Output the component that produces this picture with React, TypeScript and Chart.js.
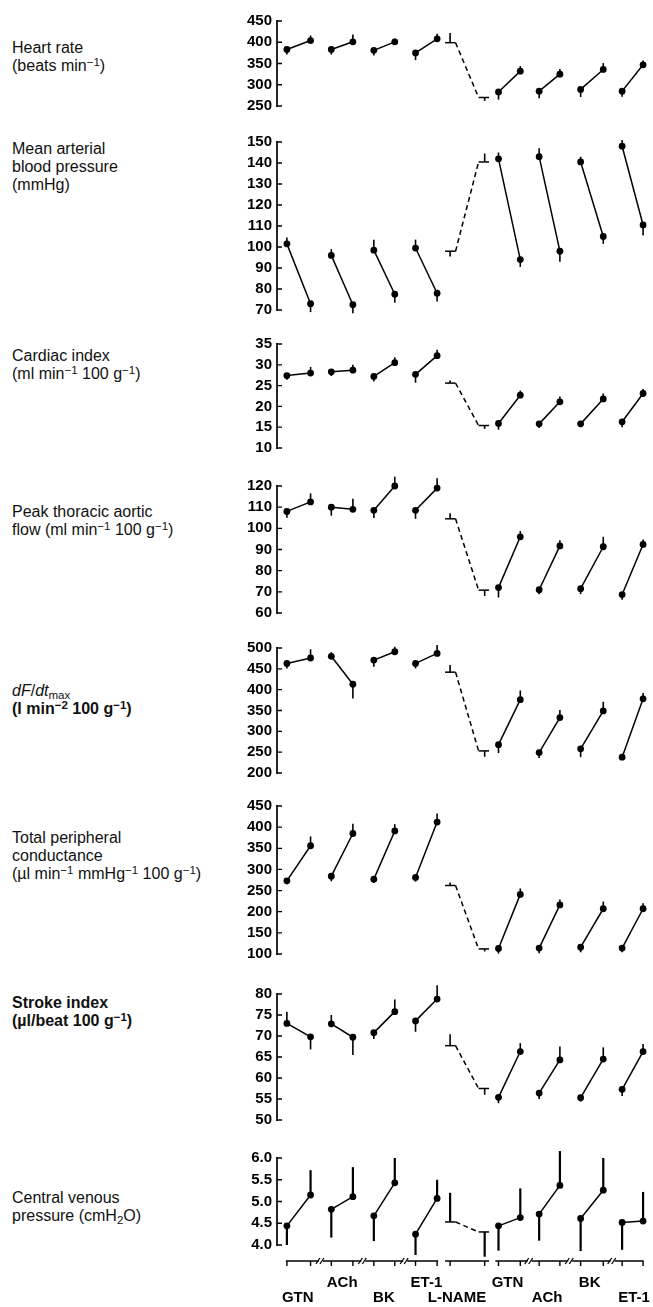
import React, { useEffect, useRef } from 'react';
import { Chart, registerables } from 'chart.js';

Chart.register(...registerables);

// ---------- x positions (treatment slots: before / after) ----------
const X_POS = [0, 1.13, 2.12, 3.15, 4.15, 5.15, 6.14, 7.17, 7.79, 9.44, 10.1, 11.14, 12.04, 13.03, 14.02, 15.1, 16.0, 17.0];
const LNAME_STUB = [7.55, 8.05, 9.15, 9.65];
const GROUPS = ['GTN', 'ACh', 'BK', 'ET-1', 'L-NAME', 'GTN', 'ACh', 'BK', 'ET-1'];
const GROUP_LABEL_POS = [0.52, 2.64, 4.63, 6.66, 8.12, 10.53, 12.42, 14.45, 16.57];
const X_MIN = -0.472;
const X_MAX = 17.283;

// ---------- series (value, signed SEM: + up, - down) ----------
const heartRate = [383, 404, 383, 401, 381, 401, 375, 408, 399, 270, 283, 332, 285, 325, 289, 336, 285, 347];
const heartRateErr = [-12, 12, -12, 17, -12, 8, -17, 12, 23, -8, -18, 12, -17, 12, -18, 15, -13, 10];
const heartRateTicks = { min: 250, max: 450, step: 50 };

const meanPressure = [101.5, 73, 96, 72.5, 98.5, 77.5, 99.5, 78, 98, 140.5, 142, 94, 143, 98, 140.5, 105, 148, 110.5];
const meanPressureErr = [3, -4, 3, -4, 5, -4, 4, -4, -2.5, 4, 3, -3.5, 4, -5, 2.5, -3.5, 3, -5];
const meanPressureTicks = { min: 70, max: 150, step: 10 };

const cardiacIndex = [27.4, 28.0, 28.3, 28.7, 27.2, 30.5, 27.7, 32.2, 25.6, 15.4, 15.9, 22.7, 15.8, 21.1, 15.8, 21.8, 16.3, 23.1];
const cardiacIndexErr = [-1, 1.5, -1, 1.3, -1.2, 1.3, -2, 1.4, 0.6, -0.8, -1.5, 1.1, -1, 1.3, -0.8, 1.3, -1.3, 1.1];
const cardiacIndexTicks = { min: 10, max: 35, step: 5 };

const peakFlow = [108, 112.5, 110, 109, 108.5, 120, 108.5, 119, 104.5, 70.8, 72, 96, 71, 91.7, 71.5, 91.3, 68.7, 92.4];
const peakFlowErr = [-3, 4, -4, 5, -3.6, 4.4, -4, 4.7, 2.6, -2.8, -4.7, 2.7, -2.2, 2.7, -2.6, 4.7, -2.4, 2.3];
const peakFlowTicks = { min: 60, max: 120, step: 10 };

const dFdt = [463, 476, 480, 413, 471, 491, 463, 487, 442, 253, 268, 376, 249, 333, 258, 349, 238, 378];
const dFdtErr = [-12, 21, 10, -34, -16, 12, -12, 20, 17, -14, -20, 22, -13, 18, -20, 22, -5, 14];
const dFdtTicks = { min: 200, max: 500, step: 50 };

const conductance = [273, 356, 284, 385, 277, 391, 281, 412, 262, 112, 113, 241, 114, 216, 116, 207, 114, 207];
const conductanceErr = [-8, 22, -12, 23, -9, 16, -10, 20, 7, -6, -12, 14, -12, 13, -12, 17, -10, 13];
const conductanceTicks = { min: 100, max: 450, step: 50 };

const strokeIndex = [73, 69.8, 72.9, 69.7, 70.8, 75.8, 73.6, 78.8, 67.7, 57.5, 55.4, 66.3, 56.4, 64.3, 55.3, 64.5, 57.3, 66.3];
const strokeIndexErr = [2.8, -3, 2.1, -4.2, -1.5, 2.9, -2.6, 3.3, 2.7, -1.5, -1.4, 2, -1.4, 3.2, -0.9, 2.8, -1.6, 1.8];
const strokeIndexTicks = { min: 50, max: 80, step: 5 };

const venousPressure = [4.44, 5.15, 4.82, 5.11, 4.67, 5.43, 4.25, 5.07, 4.53, 4.30, 4.44, 4.63, 4.71, 5.37, 4.61, 5.26, 4.52, 4.55];
const venousPressureErr = [-0.44, 0.57, -0.65, 0.68, -0.58, 0.57, -0.48, 0.43, 0.67, -0.57, -0.57, 0.67, -0.61, 0.79, -0.75, 0.74, -0.63, 0.67];
const venousPressureTicks = { min: 4, max: 6, step: 0.5 };

type PanelCfg = {
  values: number[];
  errors: number[];
  ticks: { min: number; max: number; step: number };
  top: number;
  bottom: number;
  decimals: number;
  errWidth: number;
};

const PANELS: PanelCfg[] = [
  { values: heartRate, errors: heartRateErr, ticks: heartRateTicks, top: 21, bottom: 106, decimals: 0, errWidth: 1.6 },
  { values: meanPressure, errors: meanPressureErr, ticks: meanPressureTicks, top: 142, bottom: 310, decimals: 0, errWidth: 1.6 },
  { values: cardiacIndex, errors: cardiacIndexErr, ticks: cardiacIndexTicks, top: 344, bottom: 448, decimals: 0, errWidth: 1.6 },
  { values: peakFlow, errors: peakFlowErr, ticks: peakFlowTicks, top: 486, bottom: 613, decimals: 0, errWidth: 1.6 },
  { values: dFdt, errors: dFdtErr, ticks: dFdtTicks, top: 648, bottom: 773, decimals: 0, errWidth: 1.6 },
  { values: conductance, errors: conductanceErr, ticks: conductanceTicks, top: 806, bottom: 954, decimals: 0, errWidth: 1.6 },
  { values: strokeIndex, errors: strokeIndexErr, ticks: strokeIndexTicks, top: 994, bottom: 1120, decimals: 0, errWidth: 1.6 },
  { values: venousPressure, errors: venousPressureErr, ticks: venousPressureTicks, top: 1158, bottom: 1245, decimals: 1, errWidth: 2.2 },
];

const PAGE_W = 653;
const PAGE_H = 1307;
const PAD = 16;
const FONT = '"Liberation Sans", Arial, Helvetica, sans-serif';

function Panel({ cfg, last }: { cfg: PanelCfg; last: boolean }) {
  const ref = useRef<HTMLCanvasElement | null>(null);
  const canvasTop = cfg.top - PAD;
  const canvasH = last ? PAGE_H - canvasTop : cfg.bottom - cfg.top + 2 * PAD;
  const padBottom = canvasH - PAD - (cfg.bottom - cfg.top);

  useEffect(() => {
    if (!ref.current) return;
    const decor = {
      id: 'panelDecor',
      beforeDatasetsDraw(chart: any) {
        const ctx = chart.ctx;
        const xs = chart.scales.x;
        const ys = chart.scales.y;
        ctx.save();
        ctx.strokeStyle = '#000';
        ctx.lineWidth = cfg.errWidth;
        cfg.values.forEach((v, i) => {
          const x = xs.getPixelForValue(X_POS[i]);
          const y0 = ys.getPixelForValue(v);
          const y1 = ys.getPixelForValue(v + cfg.errors[i]);
          ctx.beginPath();
          ctx.moveTo(x, y0);
          ctx.lineTo(x, y1);
          ctx.stroke();
        });
        ctx.restore();
      },
      afterDraw(chart: any) {
        const ctx = chart.ctx;
        const xs = chart.scales.x;
        const ys = chart.scales.y;
        const x0 = chart.chartArea.left;
        ctx.save();
        ctx.strokeStyle = '#000';
        ctx.lineWidth = 1.7;
        ctx.beginPath();
        ctx.moveTo(x0, ys.getPixelForValue(cfg.ticks.max) - 1);
        ctx.lineTo(x0, ys.getPixelForValue(cfg.ticks.min) + 1);
        ctx.stroke();
        ctx.lineWidth = 1.3;
        ctx.beginPath();
        ys.ticks.forEach((t: any) => {
          const y = ys.getPixelForValue(t.value);
          ctx.moveTo(x0, y);
          ctx.lineTo(x0 + 5, y);
        });
        ctx.stroke();

        if (last) {
          const ya = chart.chartArea.bottom + 16;
          ctx.lineWidth = 1.7;
          const segs = [
            [X_POS[0] - 0.05, X_POS[7] + 0.05],
            [LNAME_STUB[0], LNAME_STUB[3]],
            [X_POS[10] - 0.15, X_POS[17] + 0.03],
          ];
          ctx.beginPath();
          segs.forEach(([a, b]) => {
            ctx.moveTo(xs.getPixelForValue(a), ya);
            ctx.lineTo(xs.getPixelForValue(b), ya);
          });
          ctx.stroke();
          ctx.lineWidth = 1.4;
          ctx.beginPath();
          X_POS.forEach((p) => {
            const x = xs.getPixelForValue(p);
            ctx.moveTo(x, ya);
            ctx.lineTo(x, ya + 5);
          });
          ctx.stroke();
          // axis break marks
          [1, 3, 5, 11, 13, 15].forEach((i) => {
            const cx = (xs.getPixelForValue(X_POS[i]) + xs.getPixelForValue(X_POS[i + 1])) / 2;
            ctx.fillStyle = '#fff';
            ctx.fillRect(cx - 2, ya - 2, 4, 4);
            ctx.lineWidth = 1.3;
            ctx.beginPath();
            ctx.moveTo(cx - 5, ya + 3);
            ctx.lineTo(cx - 1, ya - 3);
            ctx.moveTo(cx - 1, ya + 3);
            ctx.lineTo(cx + 3, ya - 3);
            ctx.stroke();
          });
          ctx.fillStyle = '#000';
          ctx.font = 'bold 15px ' + FONT;
          ctx.textAlign = 'center';
          ctx.textBaseline = 'middle';
          GROUPS.forEach((g, i) => {
            const x = xs.getPixelForValue(GROUP_LABEL_POS[i]);
            ctx.fillText(g, x, ya + (i % 2 === 1 ? 22 : 37));
          });
        }
        ctx.restore();
      },
    };

    const mainData = cfg.values.map((v, i) => ({ x: X_POS[i], y: v }));
    const stubData = LNAME_STUB.map((p, k) => ({ x: p, y: cfg.values[k < 2 ? 8 : 9] }));

    const chart = new Chart(ref.current, {
      type: 'line',
      data: {
        datasets: [
          {
            data: mainData,
            borderColor: '#000',
            borderWidth: 1.5,
            pointBackgroundColor: '#000',
            pointBorderColor: '#000',
            pointBorderWidth: 0,
            pointRadius: (c: any) => (c.dataIndex === 8 || c.dataIndex === 9 ? 0 : 3.4),
            tension: 0,
            fill: false,
            clip: false as any,
            segment: {
              borderColor: (c: any) => (c.p0DataIndex % 2 === 0 && c.p0DataIndex !== 8 ? '#000' : 'rgba(0,0,0,0)'),
            },
          },
          {
            data: stubData,
            borderColor: '#000',
            borderWidth: 1.5,
            pointRadius: 0,
            tension: 0,
            fill: false,
            clip: false as any,
            segment: {
              borderDash: (c: any) => (c.p0DataIndex === 1 ? [5, 3.5] : []),
            },
          },
        ],
      },
      options: {
        responsive: false,
        animation: false,
        devicePixelRatio: 1,
        events: [],
        layout: { padding: { left: 217, right: 0, top: PAD, bottom: padBottom } },
        plugins: { legend: { display: false }, tooltip: { enabled: false } },
        scales: {
          x: { type: 'linear', min: X_MIN, max: X_MAX, display: false },
          y: {
            type: 'linear',
            min: cfg.ticks.min,
            max: cfg.ticks.max,
            grid: { display: false, drawTicks: false },
            border: { display: false },
            afterFit: (s: any) => {
              s.width = 60;
            },
            ticks: {
              stepSize: cfg.ticks.step,
              autoSkip: false,
              maxTicksLimit: 20,
              padding: 5,
              color: '#000',
              font: { family: FONT, size: 15, weight: 'bold', lineHeight: 1 },
              callback: (v: any) => Number(v).toFixed(cfg.decimals),
            },
          },
        },
      },
      plugins: [decor],
    } as any);
    return () => chart.destroy();
  }, []);

  return (
    <canvas
      ref={ref}
      width={PAGE_W}
      height={canvasH}
      style={{ position: 'absolute', left: 0, top: canvasTop, width: PAGE_W, height: canvasH }}
    />
  );
}

const supStyle: React.CSSProperties = { fontSize: '0.72em', position: 'relative', top: '-0.45em', lineHeight: 0 };
const subStyle: React.CSSProperties = { fontSize: '0.72em', position: 'relative', top: '0.3em', lineHeight: 0 };
const Sup = ({ c }: { c: string }) => <span style={supStyle}>{c}</span>;
const Sub = ({ c }: { c: string }) => <span style={subStyle}>{c}</span>;

function Label({ top, bold, children }: { top: number; bold?: boolean; children: React.ReactNode }) {
  return (
    <div
      style={{
        position: 'absolute',
        left: 12,
        top,
        fontFamily: FONT,
        fontSize: 16,
        lineHeight: '18px',
        color: '#111',
        whiteSpace: 'nowrap',
        fontWeight: bold ? 'bold' : 'normal',
      }}
    >
      {children}
    </div>
  );
}

export default function App() {
  return (
    <div style={{ position: 'absolute', left: 0, top: 0, width: PAGE_W, height: PAGE_H, background: '#fff', overflow: 'hidden' }}>
      <Label top={39}>
        Heart rate<br />(beats min<Sup c="−1" />)
      </Label>
      <Label top={140}>
        Mean arterial<br />blood pressure<br />(mmHg)
      </Label>
      <Label top={347}>
        Cardiac index<br />(ml min<Sup c="−1" /> 100 g<Sup c="−1" />)
      </Label>
      <Label top={503}>
        Peak thoracic aortic<br />flow (ml min<Sup c="−1" /> 100 g<Sup c="−1" />)
      </Label>
      <Label top={682}>
        <i>dF</i>/<i>dt</i><Sub c="max" /><br />
        <b>(l min<Sup c="−2" /> 100 g<Sup c="−1" />)</b>
      </Label>
      <Label top={829}>
        Total peripheral<br />conductance<br />(µl min<Sup c="−1" /> mmHg<Sup c="−1" /> 100 g<Sup c="−1" />)
      </Label>
      <Label top={994} bold>
        Stroke index<br />(µl/beat 100 g<Sup c="−1" />)
      </Label>
      <Label top={1189}>
        Central venous<br />pressure (cmH<Sub c="2" />O)
      </Label>
      {PANELS.map((p, i) => (
        <Panel key={i} cfg={p} last={i === PANELS.length - 1} />
      ))}
    </div>
  );
}
